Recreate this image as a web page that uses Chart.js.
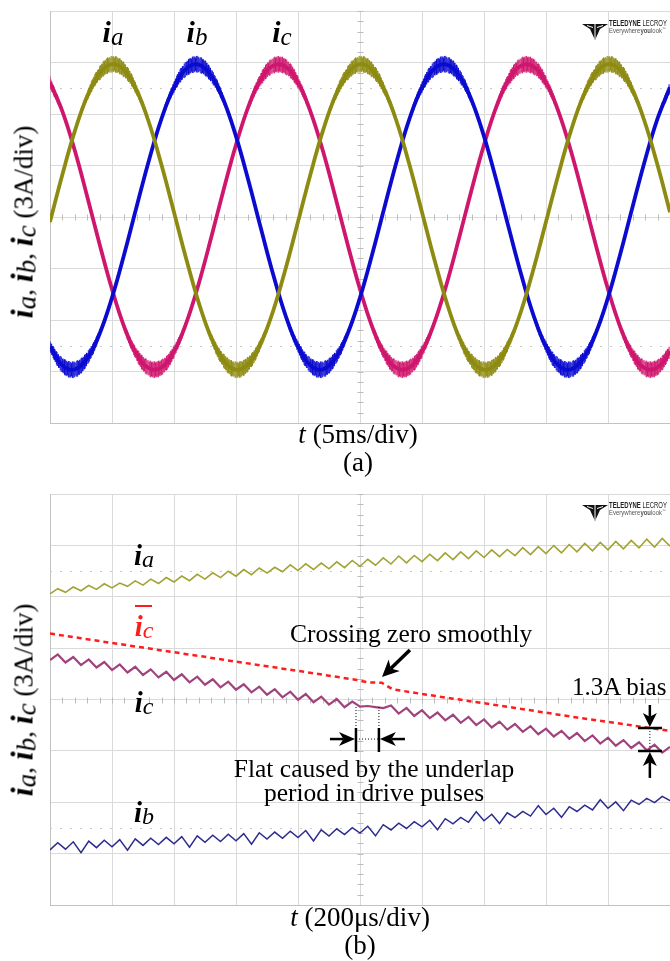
<!DOCTYPE html>
<html>
<head>
<meta charset="utf-8">
<script src="https://cdn.jsdelivr.net/npm/chart.js@4.4.1/dist/chart.umd.min.js"></script>
<style>
  html, body { margin: 0; padding: 0; background: #fff; }
  #wrap { position: relative; width: 670px; height: 961px; overflow: hidden; }
  canvas { position: absolute; left: 0; }
  #ca { top: 0; }
  #cb { top: 480px; }
  .t { position: absolute; white-space: nowrap; line-height: 1; font-family: "Liberation Serif", "Times New Roman", serif; color: #000; }
  .t span { line-height: 0; }
  .i { font-style: italic; font-weight: bold; font-size: 1.2em; }
  .s { font-style: italic; vertical-align: -0.1em; }
  .logo { position: absolute; white-space: nowrap; line-height: 1; font-family: "Liberation Sans", Arial, sans-serif; transform-origin: 0 0; }
</style>
</head>
<body>
<div id="wrap">
  <canvas id="ca" width="670" height="480"></canvas>
  <canvas id="cb" width="670" height="481"></canvas>
</div>
<script>
// (a) phase currents, t in ms, values in A (3 A/div, 5 ms/div)
const timeA = [0,1,2,3,4,5,6,7,8,9,10,11,12,13,14,15,16,17,18,19,20,21,22,23,24,25,26,27,28,29,30,
  31,32,33,34,35,36,37,38,39,40,41,42,43,44,45,46,47,48,49,50];
const iaA = [-0.28,2.48,5.00,7.03,8.37,8.90,8.55,7.36,5.46,3.01,0.28,-2.48,-5.00,-7.03,-8.37,-8.90,-8.55,-7.36,-5.46,-3.01,
  -0.28,2.48,5.00,7.03,8.37,8.90,8.55,7.36,5.46,3.01,0.28,-2.48,-5.00,-7.03,-8.37,-8.90,-8.55,-7.36,-5.46,-3.01,
  -0.28,2.48,5.00,7.03,8.37,8.90,8.55,7.36,5.46,3.01,0.28];
const ibA = [-7.56,-8.64,-8.88,-8.24,-6.80,-4.70,-2.13,0.64,3.35,5.74,7.56,8.64,8.88,8.24,6.80,4.70,2.13,-0.64,-3.35,-5.74,
  -7.56,-8.64,-8.88,-8.24,-6.80,-4.70,-2.13,0.64,3.35,5.74,7.56,8.64,8.88,8.24,6.80,4.70,2.13,-0.64,-3.35,-5.74,
  -7.56,-8.64,-8.88,-8.24,-6.80,-4.70,-2.13,0.64,3.35,5.74,7.56];
const icA = [7.84,6.15,3.87,1.20,-1.59,-4.21,-6.43,-8.02,-8.82,-8.76,-7.84,-6.15,-3.87,-1.20,1.59,4.21,6.43,8.02,8.82,8.76,
  7.84,6.15,3.87,1.20,-1.59,-4.21,-6.43,-8.02,-8.82,-8.76,-7.84,-6.15,-3.87,-1.20,1.59,4.21,6.43,8.02,8.82,8.76,
  7.84,6.15,3.87,1.20,-1.59,-4.21,-6.43,-8.02,-8.82,-8.76,-7.84];

// (b) zoom around the ic zero crossing, t in us, values in A (3 A/div, 200 us/div)
const timeB = [0,25,50,75,100,125,150,175,200,225,250,275,300,325,350,375,400,425,450,475,500,525,550,575,600,625,650,675,700,725,
  750,775,800,825,850,875,900,925,950,975,1000,1025,1050,1075,1100,1125,1150,1175,1200,1225,1250,1275,1300,1325,1350,1375,
  1400,1425,1450,1475,1500,1525,1550,1575,1600,1625,1650,1675,1700,1725,1750,1775,1800,1825,1850,1875,1900,1925,1950,1975,2000];
const iaB = [6.17,6.47,6.26,6.57,6.35,6.66,6.43,6.76,6.52,6.80,6.61,6.93,6.68,7.03,6.77,7.12,6.86,7.21,6.94,7.31,7.03,7.40,7.12,
  7.49,7.20,7.59,7.29,7.68,7.38,7.72,7.46,7.86,7.53,7.92,7.59,7.97,7.63,8.04,7.70,8.12,7.78,8.19,7.84,8.27,7.91,8.38,7.98,8.41,
  8.05,8.48,8.11,8.56,8.17,8.62,8.23,8.68,8.29,8.74,8.34,8.76,8.40,8.87,8.46,8.93,8.52,8.99,8.56,9.05,8.62,9.11,8.68,9.17,8.74,
  9.23,8.80,9.29,8.85,9.36,8.90,9.41,8.96];
const icB = [2.30,2.63,2.16,2.48,2.01,2.34,1.87,2.19,1.72,2.05,1.58,1.91,1.43,1.76,1.29,1.62,1.14,1.47,1.00,1.33,0.86,1.18,0.71,
  1.04,0.57,0.89,0.42,0.75,0.28,0.60,0.13,0.46,-0.01,0.32,-0.16,0.17,-0.30,0.03,-0.45,-0.12,-0.42,-0.38,-0.44,-0.50,-0.35,-0.82,
  -0.49,-0.96,-0.62,-1.09,-0.76,-1.22,-0.89,-1.36,-1.02,-1.49,-1.16,-1.63,-1.29,-1.76,-1.43,-1.89,-1.56,-2.03,-1.70,-2.16,-1.83,
  -2.30,-1.96,-2.43,-2.10,-2.57,-2.23,-2.70,-2.37,-2.83,-2.50,-2.97,-2.64,-3.10,-2.77];
const ibB = [-8.78,-8.36,-8.74,-8.31,-8.95,-8.27,-8.65,-8.22,-8.60,-8.18,-8.80,-8.14,-8.52,-8.10,-8.47,-8.05,-8.43,-8.01,-8.62,
  -7.96,-8.34,-7.92,-8.29,-7.87,-8.25,-7.83,-8.45,-7.78,-8.15,-7.74,-8.10,-7.69,-8.06,-7.65,-8.26,-7.61,-7.97,-7.55,-7.89,-7.48,
  -7.80,-7.40,-7.96,-7.31,-7.62,-7.22,-7.53,-7.13,-7.44,-7.05,-7.60,-6.96,-7.26,-6.88,-7.17,-6.55,-7.08,-6.70,-7.24,-6.62,-6.90,
  -6.53,-6.81,-6.20,-6.72,-6.35,-6.88,-6.26,-6.54,-6.17,-6.45,-5.85,-6.35,-5.98,-6.49,-5.88,-6.13,-5.77,-6.02,-5.66,-5.91];
// estimated ic (red dotted)
const timeBar = [0,100,200,300,400,500,600,700,800,900,990,1025,1070,1105,1200,1300,1400,1500,1600,1700,1800,1900,2000];
const icBar = [3.85,3.58,3.30,3.03,2.76,2.49,2.21,1.94,1.67,1.39,1.14,1.00,0.98,0.60,0.32,0.05,-0.22,-0.49,-0.77,-1.05,-1.31,-1.57,-1.83];

// annotation anchors for (b), in data units (us, A)
const notes = {
  cross: { from: [1161, 2.89], to: [1071, 1.31] },
  flat: { t0: 987, t1: 1061, top: -0.44, mid: -1.66, bottom: -3.07, arrowY: -2.31, left: 903, right: 1145 },
  bias: { t: 1935, t0: 1897, t1: 1974, upper: -1.66, lower: -3.01, from: -0.32, to: -4.58 }
};

const xy = (ts, vs) => vs.map((v, i) => ({ x: ts[i], y: v }));

function arrow(ctx, x1, y1, x2, y2, head, half, w) {
  const ang = Math.atan2(y2 - y1, x2 - x1);
  const c = Math.cos(ang), s = Math.sin(ang);
  const bx = x2 - head * c, by = y2 - head * s;
  const nx = x2 - head * 0.72 * c, ny = y2 - head * 0.72 * s;
  ctx.lineWidth = w;
  ctx.beginPath(); ctx.moveTo(x1, y1); ctx.lineTo(nx, ny); ctx.stroke();
  ctx.beginPath();
  ctx.moveTo(x2, y2);
  ctx.lineTo(bx + half * s, by - half * c);
  ctx.lineTo(nx, ny);
  ctx.lineTo(bx - half * s, by + half * c);
  ctx.closePath(); ctx.fill();
}

// switching ripple: short vertical strokes along each drawn curve, longer near the peaks
const ripple = {
  id: 'ripple',
  afterDatasetDraw(chart, args) {
    const { ctx, chartArea: a, scales: { y } } = chart;
    const pts = args.meta.data;
    const y0 = y.getPixelForValue(0), unit = Math.abs(y.getPixelForValue(1) - y0);
    const grain = [1, 0.82, 0.93, 0.75, 0.97];
    ctx.save();
    ctx.beginPath(); ctx.rect(a.left, a.top, a.width, a.height); ctx.clip();
    ctx.strokeStyle = args.meta.dataset.options.borderColor;
    ctx.lineWidth = 1;
    ctx.beginPath();
    let k = 0;
    for (let i = 0; i < pts.length - 1; i++) {
      const p = pts[i], q = pts[i + 1];
      for (let j = 0; j < 16; j++) {
        const s = j / 16, u = 1 - s;
        const px = u * u * u * p.x + 3 * u * u * s * p.cp2x + 3 * u * s * s * q.cp1x + s * s * s * q.x;
        const py = u * u * u * p.y + 3 * u * u * s * p.cp2y + 3 * u * s * s * q.cp1y + s * s * s * q.y;
        const m = Math.abs(py - y0) / unit / 8.9;
        const r = 1.2 + 7.2 * Math.pow(m, 3) * grain[k++ % grain.length];
        ctx.moveTo(px, py - r); ctx.lineTo(px, py + r);
      }
    }
    ctx.stroke();
    ctx.restore();
  }
};

const scopeDeco = {
  id: 'scopeDeco',
  beforeDatasetsDraw(chart, args, opts) {
    const { ctx, chartArea: a, scales: { x, y } } = chart;
    ctx.save();
    ctx.strokeStyle = '#c9c9c9';
    ctx.lineWidth = 1;
    ctx.setLineDash([2, 8]);
    [7.5, -7.5].forEach(v => {
      const py = Math.round(y.getPixelForValue(v)) + 0.5;
      ctx.beginPath(); ctx.moveTo(a.left, py); ctx.lineTo(a.right, py); ctx.stroke();
    });
    ctx.setLineDash([]);
    ctx.strokeStyle = '#bcbcbc';
    const cx = Math.round(x.getPixelForValue(opts.xMid)) + 0.5;
    const cy = Math.round(y.getPixelForValue(0)) + 0.5;
    ctx.beginPath();
    for (let k = 0; k <= 50; k++) {
      const px = Math.round(x.getPixelForValue(x.min + k * opts.xMinor)) + 0.5;
      ctx.moveTo(px, cy - 3); ctx.lineTo(px, cy + 3);
    }
    for (let k = 0; k <= 40; k++) {
      const py = Math.round(y.getPixelForValue(y.min + k * 0.6)) + 0.5;
      ctx.moveTo(cx - 3, py); ctx.lineTo(cx + 3, py);
    }
    ctx.stroke();
    // Teledyne emblem
    const lx = 582, ly = opts.logoY;
    ctx.fillStyle = '#111';
    ctx.beginPath();
    ctx.moveTo(lx, ly); ctx.lineTo(lx + 26, ly); ctx.lineTo(lx + 18, ly + 5);
    ctx.lineTo(lx + 13, ly + 16); ctx.lineTo(lx + 8, ly + 5); ctx.closePath(); ctx.fill();
    ctx.strokeStyle = '#fff'; ctx.lineWidth = 1;
    ctx.beginPath();
    ctx.moveTo(lx + 13, ly); ctx.lineTo(lx + 13, ly + 15);
    ctx.moveTo(lx + 5, ly + 1.5); ctx.lineTo(lx + 11, ly + 3.5);
    ctx.moveTo(lx + 21, ly + 1.5); ctx.lineTo(lx + 15, ly + 3.5);
    ctx.stroke();
    ctx.restore();
  }
};

const notesPlugin = {
  id: 'notes',
  afterDatasetsDraw(chart) {
    const { ctx, scales: { x, y } } = chart;
    const X = v => x.getPixelForValue(v), Y = v => y.getPixelForValue(v);
    ctx.save();
    ctx.strokeStyle = '#000'; ctx.fillStyle = '#000';
    const c = notes.cross;
    arrow(ctx, X(c.from[0]), Y(c.from[1]), X(c.to[0]), Y(c.to[1]), 17, 8, 3.5);

    const f = notes.flat;
    ctx.lineWidth = 1; ctx.setLineDash([1, 2]);
    ctx.beginPath();
    [f.t0, f.t1].forEach(t => { ctx.moveTo(X(t), Y(f.top)); ctx.lineTo(X(t), Y(f.mid)); });
    ctx.moveTo(X(f.t0), Y(f.arrowY)); ctx.lineTo(X(f.t1), Y(f.arrowY));
    ctx.stroke();
    ctx.setLineDash([]);
    ctx.lineWidth = 2.5;
    ctx.beginPath();
    [f.t0, f.t1].forEach(t => { ctx.moveTo(X(t), Y(f.mid)); ctx.lineTo(X(t), Y(f.bottom)); });
    ctx.stroke();
    arrow(ctx, X(f.left), Y(f.arrowY), X(f.t0) - 1, Y(f.arrowY), 16, 7, 2.5);
    arrow(ctx, X(f.right), Y(f.arrowY), X(f.t1) + 1, Y(f.arrowY), 16, 7, 2.5);

    const b = notes.bias;
    ctx.lineWidth = 2.5;
    ctx.beginPath();
    [b.upper, b.lower].forEach(v => { ctx.moveTo(X(b.t0), Y(v)); ctx.lineTo(X(b.t1), Y(v)); });
    ctx.stroke();
    ctx.lineWidth = 1; ctx.setLineDash([1, 2]);
    ctx.beginPath(); ctx.moveTo(X(b.t), Y(b.upper)); ctx.lineTo(X(b.t), Y(b.lower)); ctx.stroke();
    ctx.setLineDash([]);
    arrow(ctx, X(b.t), Y(b.from), X(b.t), Y(b.upper) - 1, 14, 7, 2.5);
    arrow(ctx, X(b.t), Y(b.to), X(b.t), Y(b.lower) + 1, 14, 7, 2.5);
    ctx.restore();
  }
};

function scopeOptions(xMax, xStep, pad, deco) {
  return {
    responsive: false,
    animation: false,
    events: [],
    layout: { padding: pad, autoPadding: false },
    elements: { point: { radius: 0 } },
    plugins: { legend: { display: false }, tooltip: { enabled: false }, scopeDeco: deco },
    scales: {
      x: {
        type: 'linear', min: 0, max: xMax,
        ticks: { display: false, stepSize: xStep },
        grid: { color: '#dadada', drawTicks: false },
        border: { display: true, color: '#c2c2c2' }
      },
      y: {
        min: -12, max: 12,
        ticks: { display: false, stepSize: 3 },
        grid: { color: '#dadada', drawTicks: false },
        border: { display: true, color: '#c2c2c2' }
      }
    }
  };
}

new Chart(document.getElementById('ca'), {
  type: 'line',
  data: {
    datasets: [
      { label: 'ia', data: xy(timeA, iaA), borderColor: '#8e8b12', borderWidth: 3.8, tension: 0.4 },
      { label: 'ib', data: xy(timeA, ibA), borderColor: '#0c0cd0', borderWidth: 3.8, tension: 0.4 },
      { label: 'ic', data: xy(timeA, icA), borderColor: '#cf176e', borderWidth: 3.8, tension: 0.4 }
    ]
  },
  options: scopeOptions(50, 5, { left: 50, top: 11, right: 0, bottom: 57 }, { xMid: 25, xMinor: 1, logoY: 24 }),
  plugins: [scopeDeco, ripple]
});

new Chart(document.getElementById('cb'), {
  type: 'line',
  data: {
    datasets: [
      { label: 'ic estimate', data: xy(timeBar, icBar), borderColor: '#ff1c1c', borderWidth: 2.5, borderDash: [5, 4], tension: 0 },
      { label: 'ia', data: xy(timeB, iaB), borderColor: '#a3a234', borderWidth: 1.6, tension: 0 },
      { label: 'ic', data: xy(timeB, icB), borderColor: '#a0437d', borderWidth: 2.2, tension: 0 },
      { label: 'ib', data: xy(timeB, ibB), borderColor: '#2c2c8e', borderWidth: 1.5, tension: 0 }
    ]
  },
  options: scopeOptions(2000, 200, { left: 50, top: 14, right: 0, bottom: 56 }, { xMid: 1000, xMinor: 40, logoY: 505 - 480 }),
  plugins: [scopeDeco, notesPlugin]
});

// text
const wrap = document.getElementById('wrap');
function put(html, x, base, size, center, color) {
  const d = document.createElement('div');
  d.className = 't';
  d.innerHTML = html;
  d.style.fontSize = size + 'px';
  d.style.left = x + 'px';
  d.style.top = (base - 0.8375 * size) + 'px';
  if (center) d.style.transform = 'translateX(-50%)';
  if (color) d.style.color = color;
  wrap.appendChild(d);
  return d;
}
function putRot(html, cx, cy, size) {
  const d = put(html, cx, 0, size, false);
  d.style.top = cy + 'px';
  d.style.transform = 'translate(-50%, -50%) rotate(-90deg)';
}
function logo(y) {
  const a = document.createElement('div');
  a.className = 'logo';
  a.innerHTML = '<b>TELEDYNE</b> LECROY';
  a.style.cssText += 'left:609px;top:' + (y - 2) + 'px;font-size:8.5px;color:#222;transform:scaleX(0.7);';
  wrap.appendChild(a);
  const b = document.createElement('div');
  b.className = 'logo';
  b.innerHTML = 'Everywhere<b>you</b>look<sup style="font-size:4px">™</sup>';
  b.style.cssText += 'left:609px;top:' + (y + 6) + 'px;font-size:7px;color:#555;transform:scaleX(0.85);';
  wrap.appendChild(b);
}
const cur = s => '<span class="i">i</span><span class="s">' + s + '</span>';
const yTitle = cur('a') + ', ' + cur('b') + ', ' + cur('c') + ' (3A/div)';

put(cur('a'), 113, 42, 25, true);
put(cur('b'), 197, 42, 25, true);
put(cur('c'), 282, 42, 25, true);
putRot(yTitle, 24, 222, 27);
put('<i>t</i> (5ms/div)', 358, 444, 27, true);
put('(a)', 358, 472, 27, true);
logo(21);

put(cur('a'), 144, 565, 24, true);
put(cur('c'), 144, 636, 24, true, '#ff1c1c');
const bar = document.createElement('div');
bar.style.cssText = 'position:absolute;left:135px;top:605px;width:17px;height:2px;background:#ff1c1c;';
wrap.appendChild(bar);
put(cur('c'), 144, 712, 24, true);
put(cur('b'), 144, 822, 24, true);
putRot(yTitle, 24, 700, 27);
put('Crossing zero smoothly', 290, 642, 25.5, false);
put('1.3A bias', 572, 695, 25, false);
put('Flat caused by the underlap', 374, 777, 25.5, true);
put('period in drive pulses', 374, 801, 25.5, true);
put('<i>t</i> (200μs/div)', 360, 927, 27, true);
put('(b)', 360, 955, 27, true);
logo(503);
</script>
</body>
</html>
